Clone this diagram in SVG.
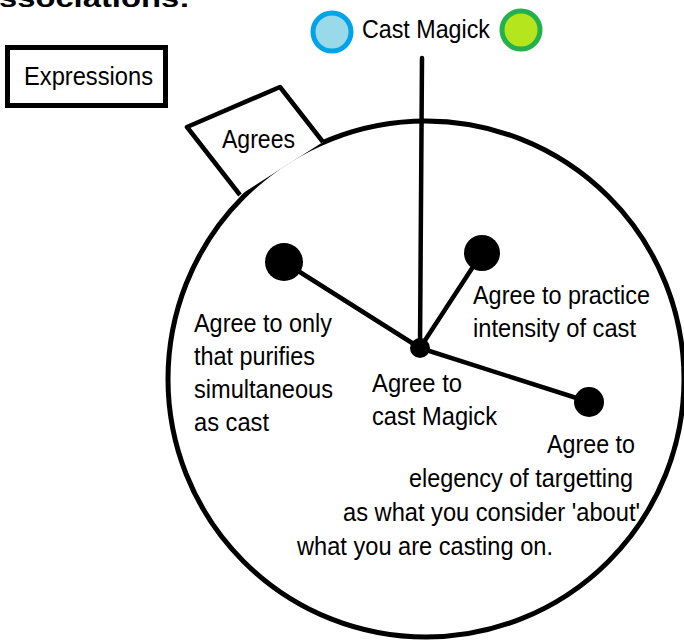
<svg xmlns="http://www.w3.org/2000/svg" width="684" height="641" viewBox="0 0 684 641">
  <style>
    text { font-family: "Liberation Sans", Arial, sans-serif; font-size: 25px; fill: #000; }
    .title { font-weight: bold; font-size: 26px; }
    .line { stroke: #000; stroke-width: 4.5; fill: none; stroke-linecap: round; }
    .dot { fill: #000; }
    .box { fill: #fff; stroke: #000; stroke-width: 5; }
  </style>
  <rect width="684" height="641" fill="#fff"/>

  <g id="title">
    <text class="title" x="-1" y="7" textLength="191" lengthAdjust="spacingAndGlyphs">ssociations:</text>
  </g>

  <g id="expressions">
    <rect class="box" x="7.5" y="47.5" width="158" height="58"/>
    <text x="24" y="85" textLength="129" lengthAdjust="spacingAndGlyphs">Expressions</text>
  </g>

  <g id="main-circle">
    <circle cx="426" cy="379" r="258" fill="#fff" stroke="#000" stroke-width="5"/>
  </g>

  <g id="agrees">
    <path d="M240,195 L187,127 L280,87 L323,142" fill="#fff" stroke="#000" stroke-width="4.5" stroke-linejoin="round"/>
    <text x="222" y="148" textLength="73" lengthAdjust="spacingAndGlyphs">Agrees</text>
  </g>

  <g id="cast-magick">
    <circle cx="332" cy="32" r="19" fill="#99d9ea" stroke="#00a2e8" stroke-width="5"/>
    <circle cx="521" cy="30" r="19" fill="#b5e61d" stroke="#22b14c" stroke-width="5"/>
    <text x="362" y="38" textLength="128" lengthAdjust="spacingAndGlyphs">Cast Magick</text>
  </g>

  <g id="connectors">
    <line class="line" x1="422" y1="58" x2="420" y2="348"/>
    <line class="line" x1="420" y1="348" x2="284" y2="262"/>
    <line class="line" x1="420" y1="348" x2="482" y2="253"/>
    <line class="line" x1="420" y1="348" x2="589" y2="402"/>
  </g>

  <g id="hub">
    <circle class="dot" cx="420" cy="348" r="10"/>
    <text x="372" y="392" textLength="90" lengthAdjust="spacingAndGlyphs">Agree to</text>
    <text x="372" y="425" textLength="125" lengthAdjust="spacingAndGlyphs">cast Magick</text>
  </g>

  <g id="purifies">
    <circle class="dot" cx="284" cy="262" r="19"/>
    <text x="194" y="332" textLength="138" lengthAdjust="spacingAndGlyphs">Agree to only</text>
    <text x="194" y="365" textLength="121" lengthAdjust="spacingAndGlyphs">that purifies</text>
    <text x="194" y="398" textLength="139" lengthAdjust="spacingAndGlyphs">simultaneous</text>
    <text x="194" y="431" textLength="75" lengthAdjust="spacingAndGlyphs">as cast</text>
  </g>

  <g id="intensity">
    <circle class="dot" cx="482" cy="253" r="18"/>
    <text x="473" y="304" textLength="177" lengthAdjust="spacingAndGlyphs">Agree to practice</text>
    <text x="473" y="337" textLength="163" lengthAdjust="spacingAndGlyphs">intensity of cast</text>
  </g>

  <g id="targetting">
    <circle class="dot" cx="589" cy="402" r="15"/>
    <text x="547" y="453" textLength="88" lengthAdjust="spacingAndGlyphs">Agree to</text>
    <text x="409" y="487" textLength="224" lengthAdjust="spacingAndGlyphs">elegency of targetting</text>
    <text x="343" y="521" textLength="297" lengthAdjust="spacingAndGlyphs">as what you consider 'about'</text>
    <text x="297" y="555" textLength="256" lengthAdjust="spacingAndGlyphs">what you are casting on.</text>
  </g>
</svg>
